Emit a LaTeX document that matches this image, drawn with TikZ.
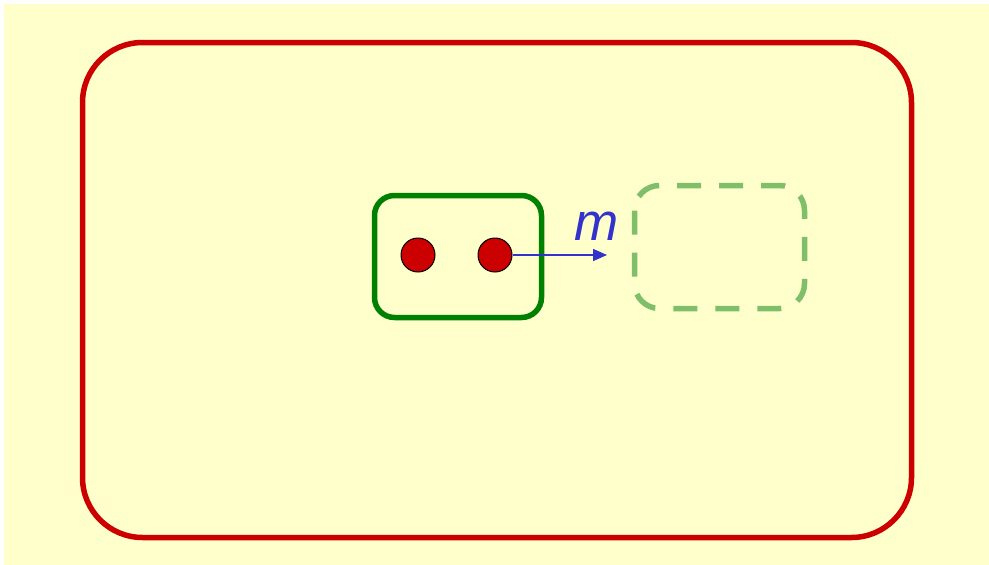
\documentclass[tikz,border=0pt]{standalone}
\usepackage{fontspec}
\setsansfont{Liberation Sans}
\usetikzlibrary{arrows.meta}
\definecolor{bgy}{HTML}{FFFFCC}
\definecolor{outred}{HTML}{CC0000}
\definecolor{boxgreen}{HTML}{008000}
\definecolor{ghostgreen}{HTML}{80BF6A}
\definecolor{arrblue}{HTML}{3333CC}
\tikzset{
  outerbox/.style={draw=outred, line width=5.5pt, rounded corners=60pt},
  solidbox/.style={draw=boxgreen, line width=5.5pt, rounded corners=20pt},
  ghostbox/.style={draw=ghostgreen, line width=5.5pt, rounded corners=25pt, dash pattern=on 24pt off 18pt},
  particle/.style={circle, draw=black, line width=1pt, fill=outred, minimum size=34pt, inner sep=0pt},
  motion/.style={draw=arrblue, line width=1.5pt, -{Triangle[length=14pt,width=12pt]}},
  mlabel/.style={text=arrblue, font=\fontsize{53}{53}\selectfont\sffamily\itshape, inner sep=0pt}
}
\begin{document}
\begin{tikzpicture}[x=1pt,y=-1pt]
\useasboundingbox (0,0) rectangle (989,565);
\fill[white] (0,0) rectangle (989,565);
\fill[bgy] (4,4) rectangle (989,565);
\draw[outerbox] (82.5,42.5) rectangle (911.5,537.5);
\draw[solidbox] (374.5,195.5) rectangle (541.5,317.5);
\draw[ghostbox] (634.5,185.5) rectangle (804.5,308.5);
\node[particle] (p1) at (418,255) {};
\node[particle] (p2) at (495,255) {};
\coordinate (tip) at (607,255);
\draw[motion] (p2.east) -- (tip);
\node[mlabel, anchor=base] (m) at (597,240) {m};
\end{tikzpicture}
\end{document}
